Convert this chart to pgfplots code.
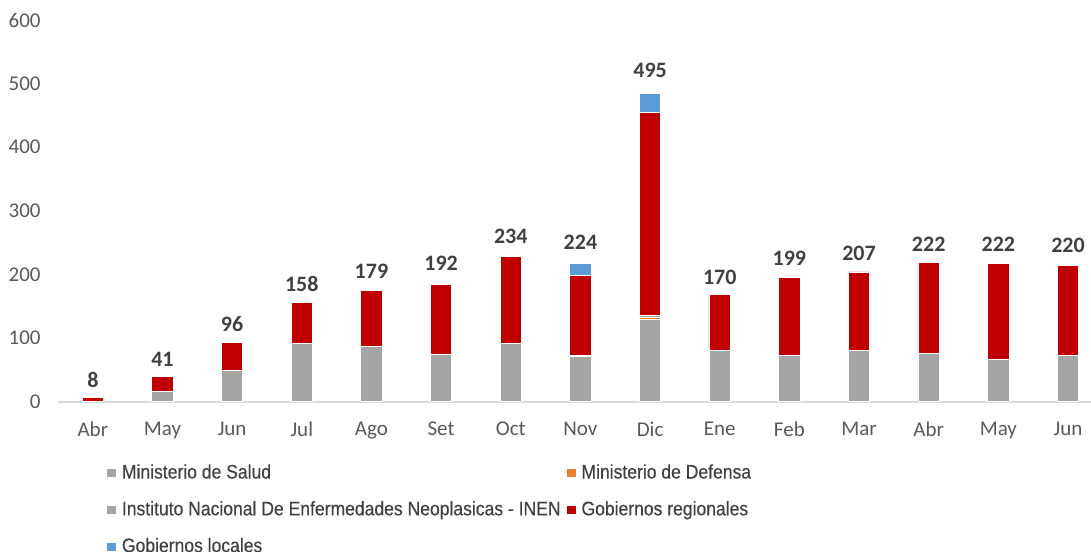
\documentclass[border=0pt]{standalone}
\usepackage{pgfplots}
\pgfplotsset{compat=1.18}
\usepackage{pgfplotstable}
\usepackage{fontspec}
\setmainfont{Carlito}
\newfontfamily\narrow[FakeStretch=0.895, FakeBold=0.3]{Liberation Sans}

\definecolor{cSalud}{HTML}{A5A5A5}
\definecolor{cDefensa}{HTML}{ED7D31}
\definecolor{cInen}{HTML}{A5A5A5}
\definecolor{cRegional}{HTML}{C00000}
\definecolor{cLocal}{HTML}{5B9BD5}
\definecolor{txt}{HTML}{595959}
\definecolor{lbl}{HTML}{404040}

% datos
\pgfplotstableread{
x salud defensa inen regional local total
0  0   0 0   6   0    8
1  16  0 0   23  0.5  41
2  49  0 0   44  1.5  96
3  91  1 0   64  1.5  158
4  87  0 0   88  1.5  179
5  75  0 0   109 1.5  192
6  91  0 0   138 1.5  234
7  71  2 0   126 19   224
8  130 2 4   318 30   495
9  81  0 0   88  1    170
10 73  0 0   123 1.5  199
11 81  0 0   123 1    207
12 76  0 0   143 1    222
13 67  0 0   150 1.5  222
14 73  0 0   141 1.5  220
}\datos

\pgfplotsset{marco/.style={
  at={(0pt,0pt)}, anchor=south west,
  scale only axis,
  width=516.5pt, height=190.85pt,
  xmin=-0.5, xmax=14.33, ymin=0, ymax=600}}

\begin{document}
\begin{tikzpicture}
\useasboundingbox (-29pt,-75pt) rectangle (516.5pt,200.85pt);
\begin{axis}[
  marco,
  ybar stacked, bar width=10.75pt,
  axis x line=bottom, axis y line=left,
  x axis line style={draw=black!15, line width=0.8pt, -},
  y axis line style={draw=none},
  major tick length=0pt,
  ytick={0,100,...,600},
  xtick={0,...,14},
  xticklabels={Abr,May,Jun,Jul,Ago,Set,Oct,Nov,Dic,Ene,Feb,Mar,Abr,May,Jun},
  /pgf/number format/assume math mode=true,
  tick label style={font=\fontsize{10.5}{12}\selectfont, text=txt},
  yticklabel style={anchor=east, inner sep=0pt, xshift=-8.5pt},
  xticklabel style={anchor=north, inner sep=0pt, yshift=-10pt},
  every axis plot/.append style={draw=white, line width=0.4pt},
  legend columns=2,
  legend cell align=left,
  legend style={draw=none, fill=none, inner sep=0pt, at={(0.0462,-0.1577)}, anchor=north west,
    font=\narrow\fontsize{9.8}{11}\selectfont, text=lbl, row sep=7.8pt,
    nodes={inner sep=1pt, text depth=0.15em},
    /tikz/every odd column/.append style={column sep=1.5pt},
    /tikz/every even column/.append style={column sep=1.5pt}},
  legend image code/.code={\fill[#1] (0pt,-2.25pt) rectangle (5pt,2.25pt);},
]
\addplot[fill=cSalud] table[x=x, y=salud] {\datos};
\addlegendentry{Ministerio de Salud}
\addplot[fill=cDefensa] table[x=x, y=defensa] {\datos};
\addlegendentry{Ministerio de Defensa}
\addplot[fill=cInen] table[x=x, y=inen] {\datos};
\addlegendentry{Instituto Nacional De Enfermedades Neoplasicas - INEN}
\addplot[fill=cRegional] table[x=x, y=regional] {\datos};
\addlegendentry{Gobiernos regionales}
\addplot[fill=cLocal] table[x=x, y=local] {\datos};
\addlegendentry{Gobiernos locales}
\end{axis}
% totales sobre las barras
\begin{axis}[marco, hide axis]
\addplot[draw=none, mark=none,
  point meta=explicit symbolic,
  nodes near coords,
  nodes near coords style={anchor=south, inner sep=0pt, yshift=4.5pt,
    font=\bfseries\fontsize{11}{13}\selectfont, text=lbl}]
  table[x=x, y=total, meta=total] {\datos};
\end{axis}
\end{tikzpicture}
\end{document}
